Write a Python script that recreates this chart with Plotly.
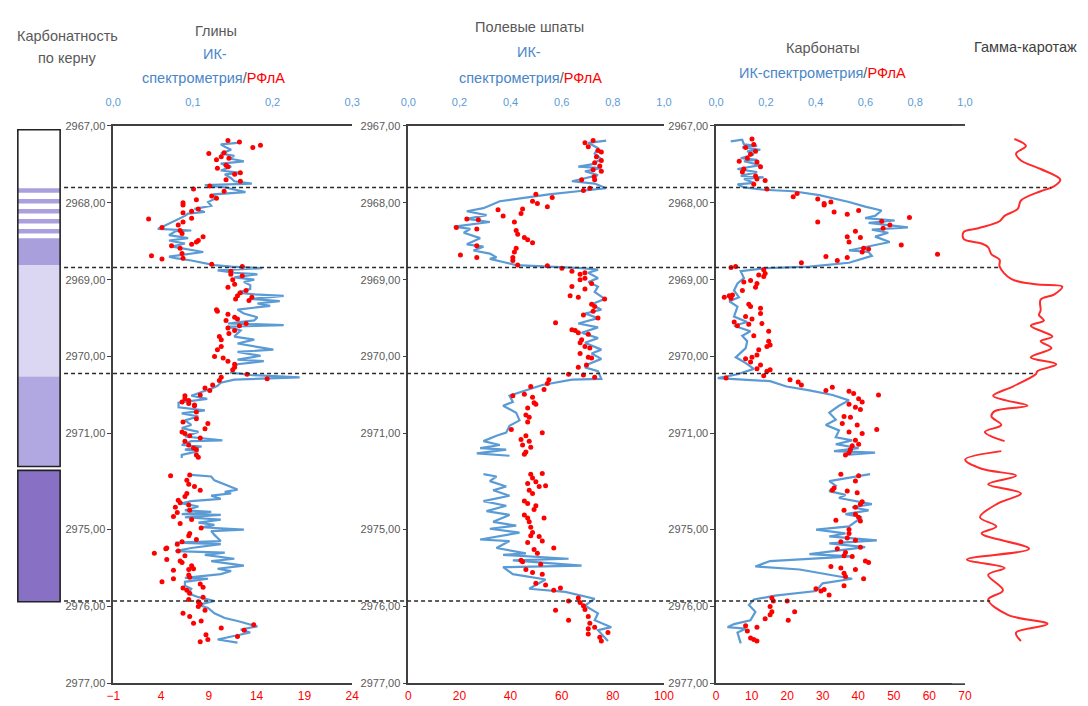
import numpy as np
import plotly.graph_objects as go

W, H = 1088, 706
BLUE = "#5b9bd5"
BLUE_TXT = "#4a86c8"
RED = "#ff0000"
GREY = "#595959"
AXC = "#404040"
FONT = "Liberation Sans, Arial, sans-serif"

# ---------------- depth axis (broken between 2971 and 2975) ----------------
DEPTH_TICKS = [2967, 2968, 2969, 2970, 2971, 2975, 2976, 2977]
BREAK_AT, BREAK_SHIFT = 2972.0, 2.75


def to_axis(seq):
    return [None if d is None else (d if d < BREAK_AT else d - BREAK_SHIFT) for d in seq]


# ---------------- Core carbonate column ----------------
CORE_TOP = [2967.05, 2967.80, 2968.46, 2968.81, 2970.26, 2974.23]
CORE_BOT = [2967.80, 2968.46, 2968.81, 2970.26, 2971.43, 2975.94]
CORE_KIND = ["white", "stripes", "medium", "light", "medium2", "dark"]
CORE_STRIPES = [2967.84, 2967.98, 2968.11, 2968.24, 2968.37]
CORE_BOXES = [(2967.05, 2971.43), (2974.23, 2975.94)]

# boundaries (dashed lines)
BOUNDARIES = [2967.80, 2968.84, 2970.22, 2975.93]

# ---------------- Clays ----------------
clay_ir_depth = [2967.22, 2967.24, 2967.27, 2967.31, 2967.36, 2967.39, 2967.42, 2967.46, 2967.49, 2967.53,
                 2967.58, 2967.61, 2967.63, 2967.68, 2967.72, 2967.75, 2967.77, 2967.80, 2967.86, 2967.89,
                 2967.94, 2967.99, 2968.04, 2968.08, 2968.12, 2968.14, 2968.17, 2968.23, 2968.26, 2968.34,
                 2968.36, 2968.37, 2968.42, 2968.44, 2968.46, 2968.49, 2968.53, 2968.57, 2968.59, 2968.64,
                 2968.70, 2968.72, 2968.75, 2968.78, 2968.81, 2968.83, 2968.85, 2968.88, 2968.91, 2968.93,
                 2968.97, 2969.00, 2969.03, 2969.07, 2969.12, 2969.17, 2969.19, 2969.21, 2969.25, 2969.28,
                 2969.31, 2969.34, 2969.39, 2969.44, 2969.49, 2969.53, 2969.57, 2969.59, 2969.61, 2969.66,
                 2969.70, 2969.74, 2969.78, 2969.83, 2969.91, 2969.94, 2969.99, 2970.04, 2970.06, 2970.10,
                 2970.14, 2970.21, 2970.24, 2970.27, 2970.30, 2970.34, 2970.38, 2970.42, 2970.46, 2970.51,
                 2970.55, 2970.60, 2970.66, 2970.70, 2970.74, 2970.78, 2970.83, 2970.89, 2970.93, 2970.98,
                 2971.04, 2971.09, 2971.10, 2971.15, 2971.17, 2971.21, 2971.23, 2971.28, 2971.32,
                 None,
                 2974.29, 2974.31, 2974.36, 2974.45, 2974.48, 2974.51, 2974.53, 2974.56, 2974.60, 2974.63,
                 2974.66, 2974.70, 2974.75, 2974.77, 2974.80, 2974.81, 2974.84, 2974.87, 2974.91, 2974.94,
                 2974.97, 2975.00, 2975.02, 2975.07, 2975.15, 2975.17, 2975.19, 2975.24, 2975.28, 2975.30,
                 2975.33, 2975.38, 2975.41, 2975.47, 2975.51, 2975.54, 2975.58, 2975.63, 2975.64, 2975.68,
                 2975.73, 2975.77, 2975.83, 2975.88, 2975.93, 2975.98, 2976.02, 2976.09, 2976.15, 2976.19,
                 2976.23, 2976.26, 2976.30, 2976.34, 2976.43, 2976.47]
clay_ir = [0.156, 0.135, 0.140, 0.148, 0.135, 0.152, 0.144, 0.164, 0.135, 0.148,
           0.135, 0.160, 0.140, 0.148, 0.152, 0.174, 0.115, 0.140, 0.166, 0.127,
           0.129, 0.119, 0.123, 0.102, 0.115, 0.094, 0.090, 0.078, 0.074, 0.056,
           0.098, 0.078, 0.070, 0.082, 0.094, 0.070, 0.090, 0.074, 0.086, 0.113,
           0.070, 0.078, 0.098, 0.115, 0.127, 0.148, 0.187, 0.131, 0.152, 0.181,
           0.152, 0.177, 0.164, 0.172, 0.172, 0.156, 0.177, 0.214, 0.172, 0.209,
           0.181, 0.197, 0.156, 0.164, 0.181, 0.177, 0.144, 0.214, 0.144, 0.160,
           0.156, 0.152, 0.177, 0.156, 0.201, 0.156, 0.185, 0.156, 0.189, 0.156,
           0.152, 0.148, 0.172, 0.234, 0.152, 0.135, 0.131, 0.123, 0.111, 0.098,
           0.118, 0.082, 0.082, 0.115, 0.086, 0.107, 0.090, 0.098, 0.086, 0.107,
           0.090, 0.137, 0.098, 0.086, 0.111, 0.090, 0.107, 0.086, 0.086,
           None,
           0.098, 0.123, 0.127, 0.148, 0.156, 0.140, 0.148, 0.123, 0.135, 0.098,
           0.086, 0.107, 0.090, 0.123, 0.086, 0.135, 0.090, 0.135, 0.107, 0.127,
           0.111, 0.164, 0.123, 0.127, 0.135, 0.078, 0.135, 0.098, 0.078, 0.140,
           0.115, 0.152, 0.123, 0.164, 0.131, 0.148, 0.135, 0.090, 0.119, 0.090,
           0.090, 0.098, 0.094, 0.107, 0.127, 0.107, 0.119, 0.127, 0.140, 0.156,
           0.172, 0.181, 0.160, 0.172, 0.131, 0.156]

clay_xrf_depth = [2967.19, 2967.21, 2967.28, 2967.25, 2967.36, 2967.35, 2967.40, 2967.44, 2967.42, 2967.51,
                  2967.53, 2967.55, 2967.63, 2967.61, 2967.70, 2967.72, 2967.82, 2967.78, 2967.85, 2967.94,
                  2967.96, 2968.00, 2968.03, 2967.91, 2968.08, 2968.11, 2968.13, 2968.21, 2968.20, 2968.25,
                  2968.29, 2968.32, 2968.36, 2968.40, 2968.44, 2968.49, 2968.51, 2968.56, 2968.54, 2968.59,
                  2968.66, 2968.69, 2968.73, 2968.72, 2968.80, 2968.83, 2968.89, 2968.93, 2968.95, 2969.00,
                  2969.06, 2969.10, 2969.14, 2969.17, 2969.21, 2969.23, 2969.27, 2969.25, 2969.39, 2969.41,
                  2969.45, 2969.53, 2969.49, 2969.51, 2969.57, 2969.63, 2969.60, 2969.66, 2969.70, 2969.74,
                  2969.78, 2969.87, 2969.91, 2970.00, 2970.02, 2970.06, 2970.10, 2970.14, 2970.17, 2970.23,
                  2970.29, 2970.27, 2970.31, 2970.37, 2970.44, 2970.41, 2970.50, 2970.51, 2970.55, 2970.59,
                  2970.61, 2970.63, 2970.57, 2970.64, 2970.72, 2970.81, 2970.85, 2970.87, 2970.94, 2970.98,
                  2971.00, 2971.03, 2971.06, 2971.10, 2971.15, 2971.19, 2971.21, 2971.28, 2971.31,
                  2974.30, 2974.29, 2974.36, 2974.41, 2974.44, 2974.49, 2974.53, 2974.57, 2974.62, 2974.65,
                  2974.68, 2974.71, 2974.78, 2974.83, 2974.75, 2974.87, 2974.92, 2974.98, 2975.05, 2975.08,
                  2975.13, 2975.16, 2975.19, 2975.24, 2975.25, 2975.31, 2975.28, 2975.34, 2975.39, 2975.41,
                  2975.43, 2975.47, 2975.51, 2975.52, 2975.53, 2975.59, 2975.62, 2975.64, 2975.68, 2975.71,
                  2975.75, 2975.76, 2975.79, 2975.83, 2975.91, 2975.94, 2975.88, 2976.00, 2975.97, 2976.05,
                  2976.09, 2976.13, 2976.19, 2976.22, 2976.28, 2976.31, 2976.24, 2976.39, 2976.37, 2976.43,
                  2976.46]
clay_xrf = [11.0, 12.2, 13.6, 14.4, 9.0, 10.6, 10.3, 9.8, 11.1, 10.8,
            11.0, 9.9, 11.7, 12.3, 10.8, 12.3, 7.4, 9.1, 10.6, 9.8,
            7.7, 6.3, 6.3, 9.3, 7.9, 7.2, 6.3, 2.7, 7.2, 6.3,
            5.8, 4.1, 6.0, 6.2, 8.4, 7.9, 7.7, 5.1, 7.2, 6.0,
            6.2, 3.0, 4.1, 6.3, 9.3, 12.5, 11.3, 11.3, 12.5, 11.5,
            11.7, 11.0, 12.9, 12.3, 12.0, 13.5, 13.2, 11.8, 9.8, 9.9,
            11.0, 10.8, 11.7, 12.0, 12.9, 11.0, 12.2, 11.7, 11.1, 10.1,
            10.3, 10.3, 9.9, 9.6, 10.5, 11.0, 11.7, 11.7, 11.5, 13.0,
            15.1, 10.3, 10.1, 9.4, 9.1, 8.6, 8.1, 6.5, 6.5, 6.2,
            6.9, 7.5, 6.9, 7.5, 7.7, 7.7, 6.3, 8.9, 8.6, 6.2,
            6.5, 7.0, 8.1, 6.5, 6.9, 7.4, 7.7, 7.7, 7.9,
            5.0, 7.0, 6.7, 6.9, 7.5, 8.1, 6.7, 6.5, 5.8, 6.0,
            6.9, 5.5, 5.7, 5.3, 7.0, 7.2, 6.0, 8.2, 7.0, 6.9,
            7.7, 6.2, 5.7, 4.6, 4.5, 3.3, 5.8, 6.5, 4.6, 6.0,
            6.2, 7.2, 7.4, 6.9, 5.3, 6.9, 7.0, 5.3, 4.1, 8.1,
            8.4, 6.3, 6.7, 7.0, 6.9, 7.9, 8.4, 7.9, 8.1, 8.6,
            6.3, 7.0, 8.2, 7.4, 10.3, 12.7, 13.7, 12.0, 8.7, 8.9,
            8.1]

# ---------------- Feldspars ----------------
fsp_ir_depth = [2967.19, 2967.22, 2967.29, 2967.36, 2967.43, 2967.50, 2967.53, 2967.55, 2967.59, 2967.64,
                2967.68, 2967.72, 2967.75, 2967.81, 2967.84, 2967.89, 2967.98, 2968.07, 2968.11, 2968.16,
                2968.21, 2968.25, 2968.31, 2968.34, 2968.39, 2968.46, 2968.54, 2968.57, 2968.62, 2968.66,
                2968.71, 2968.73, 2968.77, 2968.81, 2968.85, 2968.87, 2968.91, 2968.98, 2969.03, 2969.09,
                2969.16, 2969.25, 2969.32, 2969.39, 2969.44, 2969.50, 2969.57, 2969.62, 2969.69, 2969.76,
                2969.82, 2969.91, 2969.96, 2970.03, 2970.10, 2970.14, 2970.19, 2970.29, 2970.30, 2970.37,
                2970.51, 2970.59, 2970.64, 2970.73, 2970.83, 2970.90, 2970.99, 2971.03, 2971.10, 2971.15,
                2971.19, 2971.21, 2971.26, 2971.29,
                None,
                2974.28, 2974.31, 2974.37, 2974.44, 2974.49, 2974.56, 2974.63, 2974.69, 2974.76, 2974.81,
                2974.90, 2974.95, 2974.99, 2975.04, 2975.13, 2975.15, 2975.24, 2975.31, 2975.33, 2975.38,
                2975.40, 2975.47, 2975.49, 2975.58, 2975.65, 2975.77, 2975.81, 2975.90, 2975.99, 2976.09,
                2976.18, 2976.27, 2976.31, 2976.45]
fsp_ir = [0.774, 0.704, 0.742, 0.729, 0.755, 0.717, 0.665, 0.755, 0.691, 0.742,
          0.691, 0.640, 0.729, 0.774, 0.691, 0.550, 0.358, 0.294, 0.229, 0.306,
          0.229, 0.319, 0.178, 0.242, 0.217, 0.281, 0.229, 0.294, 0.255, 0.319,
          0.345, 0.319, 0.371, 0.422, 0.678, 0.742, 0.704, 0.742, 0.704, 0.742,
          0.729, 0.768, 0.717, 0.755, 0.691, 0.742, 0.665, 0.742, 0.678, 0.742,
          0.691, 0.755, 0.717, 0.755, 0.704, 0.691, 0.742, 0.755, 0.640, 0.524,
          0.396, 0.409, 0.371, 0.422, 0.435, 0.396, 0.383, 0.345, 0.294, 0.358,
          0.281, 0.383, 0.268, 0.396,
          None,
          0.294, 0.345, 0.319, 0.383, 0.332, 0.396, 0.294, 0.383, 0.306, 0.396,
          0.332, 0.422, 0.319, 0.435, 0.281, 0.396, 0.345, 0.460, 0.371, 0.627,
          0.409, 0.678, 0.371, 0.409, 0.537, 0.473, 0.614, 0.729, 0.691, 0.742,
          0.729, 0.794, 0.742, 0.781]

fsp_xrf_depth = [2967.22, 2967.19, 2967.27, 2967.32, 2967.34, 2967.40, 2967.45, 2967.48, 2967.52, 2967.57,
                 2967.59, 2967.66, 2967.70, 2967.70, 2967.81, 2967.84, 2967.89, 2967.93, 2967.98, 2968.01,
                 2968.05, 2968.08, 2968.14, 2968.09, 2968.17, 2968.25, 2968.36, 2968.41, 2968.45, 2968.48,
                 2968.52, 2968.59, 2968.64, 2968.71, 2968.75, 2968.21, 2968.22, 2968.34, 2968.32, 2968.56,
                 2968.68, 2968.71, 2968.81, 2968.82, 2968.85, 2968.89, 2968.93, 2968.91, 2968.98, 2969.00,
                 2969.05, 2969.09, 2969.21, 2969.12, 2969.23, 2969.25, 2969.32, 2969.35, 2969.41, 2969.46,
                 2969.50, 2969.56, 2969.65, 2969.66, 2969.69, 2969.71, 2969.78, 2969.82, 2969.87, 2969.89,
                 2969.96, 2970.01, 2970.02, 2970.11, 2970.14, 2970.23, 2970.24, 2970.27, 2970.30, 2970.35,
                 2970.43, 2970.39, 2970.49, 2970.51, 2970.53, 2970.60, 2970.62, 2970.67, 2970.76, 2970.79,
                 2970.85, 2970.95, 2970.99, 2971.03, 2971.08, 2971.10, 2971.15, 2971.18, 2971.24, 2971.27,
                 2974.28, 2974.27, 2974.33, 2974.38, 2974.40, 2974.44, 2974.43, 2974.49, 2974.53, 2974.63,
                 2974.66, 2974.69, 2974.74, 2974.81, 2974.85, 2974.85, 2974.90, 2974.97, 2975.04, 2975.08,
                 2975.09, 2975.15, 2975.17, 2975.26, 2975.31, 2975.24, 2975.40, 2975.42, 2975.52, 2975.45,
                 2975.56, 2975.58, 2975.70, 2975.72, 2975.79, 2975.76, 2975.93, 2975.89, 2975.95, 2975.99,
                 2976.05, 2976.18, 2976.04, 2976.13, 2976.22, 2976.29, 2976.27, 2976.36, 2976.34, 2976.40,
                 2976.45]
fsp_xrf = [69.1, 72.3, 70.4, 74.2, 75.5, 73.6, 75.5, 72.9, 74.9, 72.3,
           75.5, 72.7, 67.8, 72.9, 71.0, 68.5, 49.9, 56.3, 48.6, 50.5,
           54.4, 44.7, 44.1, 35.1, 37.1, 41.5, 42.2, 42.8, 45.4, 46.7,
           48.6, 42.2, 41.5, 40.9, 40.9, 22.9, 27.4, 26.8, 18.8, 26.8,
           20.4, 26.8, 42.8, 54.4, 60.1, 64.0, 67.2, 69.1, 69.1, 67.2,
           71.7, 64.0, 63.3, 69.1, 66.5, 76.8, 71.7, 72.9, 72.3, 68.5,
           74.2, 57.6, 64.0, 65.3, 66.5, 70.4, 67.8, 67.2, 69.1, 71.0,
           67.2, 70.4, 71.7, 69.7, 66.5, 62.7, 68.5, 72.9, 55.0, 54.4,
           53.1, 47.9, 45.4, 40.9, 48.6, 49.2, 49.9, 46.7, 46.0, 47.3,
           46.7, 40.3, 52.4, 46.0, 44.1, 47.3, 44.7, 47.9, 46.0, 45.4,
           47.9, 52.4, 48.6, 49.9, 46.7, 51.2, 53.7, 47.3, 48.6, 45.4,
           46.7, 49.9, 49.2, 45.4, 46.7, 53.1, 47.3, 47.9, 48.6, 47.9,
           51.2, 52.4, 46.7, 49.2, 50.5, 56.9, 44.1, 44.7, 46.0, 51.8,
           48.6, 52.4, 49.9, 53.7, 56.9, 59.5, 62.7, 66.5, 67.2, 68.5,
           57.6, 62.7, 69.1, 70.4, 71.0, 70.4, 72.9, 70.4, 78.1, 74.9,
           75.5]

# ---------------- Carbonates ----------------
carb_ir_depth = [2967.20, 2967.18, 2967.24, 2967.26, 2967.28, 2967.31, 2967.33, 2967.37, 2967.42, 2967.44,
                 2967.46, 2967.51, 2967.56, 2967.60, 2967.65, 2967.67, 2967.69, 2967.74, 2967.76, 2967.80,
                 2967.83, 2967.85, 2967.90, 2967.99, 2968.05, 2968.10, 2968.17, 2968.20, 2968.23, 2968.26,
                 2968.32, 2968.35, 2968.39, 2968.44, 2968.51, 2968.62, 2968.64, 2968.69, 2968.78, 2968.83,
                 2968.85, 2968.89, 2968.98, 2969.05, 2969.14, 2969.23, 2969.28, 2969.35, 2969.48, 2969.55,
                 2969.60, 2969.67, 2969.73, 2969.80, 2969.89, 2970.01, 2970.07, 2970.16, 2970.23, 2970.28,
                 2970.32, 2970.39, 2970.44, 2970.50, 2970.57, 2970.64, 2970.73, 2970.82, 2970.89, 2970.96,
                 2971.05, 2971.09, 2971.14, 2971.19, 2971.23, 2971.25, 2971.28,
                 None,
                 2974.28, 2974.37, 2974.43, 2974.50, 2974.55, 2974.59, 2974.67, 2974.71, 2974.75, 2974.80,
                 2974.84, 2974.96, 2975.00, 2975.05, 2975.09, 2975.14, 2975.18, 2975.23, 2975.32, 2975.35,
                 2975.41, 2975.48, 2975.52, 2975.64, 2975.70, 2975.80, 2975.86, 2975.91, 2975.98, 2976.07,
                 2976.18, 2976.23, 2976.27, 2976.29, 2976.34, 2976.48]
carb_ir = [0.059, 0.105, 0.112, 0.165, 0.105, 0.178, 0.125, 0.152, 0.099, 0.165,
           0.112, 0.178, 0.086, 0.165, 0.099, 0.191, 0.112, 0.152, 0.086, 0.112,
           0.191, 0.310, 0.415, 0.534, 0.599, 0.665, 0.639, 0.599, 0.718, 0.613,
           0.771, 0.626, 0.692, 0.639, 0.698, 0.534, 0.613, 0.626, 0.534, 0.375,
           0.204, 0.099, 0.112, 0.086, 0.072, 0.092, 0.053, 0.086, 0.072, 0.125,
           0.072, 0.138, 0.105, 0.125, 0.119, 0.079, 0.112, 0.152, 0.086, 0.007,
           0.217, 0.283, 0.375, 0.468, 0.534, 0.494, 0.455, 0.481, 0.441, 0.494,
           0.481, 0.547, 0.481, 0.573, 0.474, 0.639, 0.520,
           None,
           0.619, 0.455, 0.481, 0.455, 0.520, 0.494, 0.626, 0.547, 0.613, 0.520,
           0.586, 0.534, 0.402, 0.520, 0.455, 0.646, 0.455, 0.599, 0.375, 0.547,
           0.217, 0.158, 0.336, 0.547, 0.428, 0.402, 0.237, 0.152, 0.132, 0.158,
           0.138, 0.072, 0.046, 0.119, 0.086, 0.099]

carb_xrf_depth = [2967.17, 2967.24, 2967.28, 2967.33, 2967.37, 2967.42, 2967.46, 2967.47, 2967.56, 2967.53,
                  2967.60, 2967.65, 2967.71, 2967.69, 2967.76, 2967.82, 2967.92, 2967.88, 2967.95, 2968.03,
                  2967.99, 2968.12, 2968.01, 2968.15, 2968.10, 2968.25, 2968.24, 2968.33, 2968.29, 2968.19,
                  2968.37, 2968.44, 2968.51, 2968.45, 2968.55, 2968.59, 2968.64, 2968.60, 2968.67, 2968.70,
                  2968.75, 2968.71, 2968.78, 2968.84, 2968.83, 2970.28, 2968.87, 2968.92, 2968.94, 2969.01,
                  2968.96, 2969.05, 2969.03, 2969.10, 2969.14, 2969.21, 2969.23, 2969.24, 2969.20, 2969.32,
                  2969.35, 2969.37, 2969.44, 2969.48, 2969.51, 2969.55, 2969.60, 2969.57, 2969.58, 2969.67,
                  2969.73, 2969.80, 2969.85, 2969.87, 2969.91, 2969.98, 2970.01, 2970.03, 2970.07, 2970.11,
                  2970.16, 2970.17, 2970.19, 2970.25, 2970.30, 2970.33, 2970.37, 2970.44, 2970.40, 2970.45,
                  2970.48, 2970.55, 2970.59, 2970.62, 2970.66, 2970.50, 2970.69, 2970.78, 2970.79, 2970.89,
                  2970.87, 2970.98, 2971.00, 2970.95, 2971.09, 2971.16, 2971.14, 2971.21, 2971.28, 2971.25,
                  2974.28, 2974.30, 2974.37, 2974.46, 2974.49, 2974.50, 2974.52, 2974.64, 2974.67, 2974.71,
                  2974.75, 2974.80, 2974.84, 2974.89, 2974.88, 2975.00, 2975.05, 2975.11, 2975.16, 2975.14,
                  2975.23, 2975.30, 2975.25, 2975.34, 2975.35, 2975.41, 2975.43, 2975.48, 2975.50, 2975.52,
                  2975.57, 2975.61, 2975.73, 2975.64, 2975.77, 2975.80, 2975.78, 2975.85, 2975.89, 2975.93,
                  2975.93, 2976.00, 2976.07, 2976.11, 2976.16, 2976.07, 2976.18, 2976.27, 2976.25, 2976.32,
                  2976.41, 2976.43, 2976.45]
carb_xrf = [10.1, 10.6, 8.3, 11.1, 9.7, 8.8, 6.5, 11.5, 7.8, 12.5,
            7.4, 11.1, 13.8, 11.5, 10.6, 14.3, 21.7, 22.8, 28.6, 30.4,
            32.3, 33.2, 30.4, 36.9, 40.1, 28.6, 46.6, 47.0, 48.9, 54.4,
            39.2, 36.9, 37.4, 40.6, 52.1, 41.5, 41.1, 42.9, 62.3, 30.9,
            34.1, 36.9, 24.0, 4.2, 5.5, 2.8, 13.4, 13.8, 12.0, 9.7,
            13.4, 11.5, 7.8, 11.1, 7.4, 3.7, 2.3, 4.2, 4.6, 9.2,
            9.7, 12.5, 12.5, 8.3, 10.1, 5.1, 6.0, 12.9, 9.2, 14.8,
            10.6, 14.8, 15.2, 14.3, 12.0, 11.5, 10.1, 8.3, 9.7, 12.5,
            11.5, 15.2, 14.3, 13.4, 20.8, 23.1, 24.0, 30.9, 32.7, 37.4,
            38.7, 40.1, 41.1, 37.4, 39.2, 45.7, 40.6, 36.0, 37.8, 39.7,
            35.5, 37.4, 41.1, 45.2, 39.2, 38.3, 40.1, 37.8, 36.4, 37.4,
            35.1, 40.1, 39.2, 33.2, 32.7, 36.9, 39.7, 41.1, 40.6, 39.2,
            36.0, 39.2, 40.1, 40.6, 33.7, 37.4, 37.4, 36.9, 35.1, 39.2,
            40.6, 36.4, 34.1, 36.0, 38.3, 42.0, 42.9, 32.3, 35.1, 39.2,
            36.0, 36.4, 36.0, 41.5, 28.1, 29.5, 30.4, 31.8, 15.7, 16.1,
            20.0, 15.2, 15.7, 15.2, 13.8, 22.1, 20.3, 11.5, 8.3, 8.8,
            9.7, 10.6, 11.5]

# ---------------- Gamma log ----------------
gamma_depth = [2967.17, 2967.26, 2967.36, 2967.45, 2967.56, 2967.70, 2967.79, 2967.85, 2967.97, 2968.08,
               2968.17, 2968.24, 2968.33, 2968.38, 2968.47, 2968.53, 2968.58, 2968.67, 2968.74, 2968.83,
               2968.99, 2969.06, 2969.09, 2969.19, 2969.26, 2969.40, 2969.46, 2969.53, 2969.60, 2969.74,
               2969.80, 2969.89, 2970.01, 2970.10, 2970.19, 2970.23, 2970.39, 2970.51, 2970.57, 2970.64,
               2970.71, 2970.78, 2970.89, 2970.98, 2971.10,
               None,
               2973.98, 2974.09, 2974.21, 2974.30, 2974.41, 2974.53, 2974.66, 2974.84, 2974.96, 2975.05,
               2975.25, 2975.39, 2975.50, 2975.59, 2975.79, 2975.91, 2976.11, 2976.23, 2976.34, 2976.45]
gamma = [63.3, 75.0, 65.0, 70.0, 90.0, 110.0, 103.0, 90.0, 70.0, 66.7,
         53.3, 48.3, 26.7, 11.7, 11.7, 30.0, 36.7, 40.0, 48.3, 48.3,
         60.0, 85.0, 112.0, 104.0, 90.0, 90.0, 88.3, 93.3, 80.0, 102.0,
         90.0, 101.0, 80.0, 106.0, 86.7, 85.0, 61.7, 41.7, 55.0, 76.7,
         43.3, 40.0, 50.0, 33.3, 53.3,
         None,
         50.0, 13.3, 30.0, 65.0, 36.7, 70.0, 46.7, 28.3, 45.0, 30.0,
         78.3, 15.0, 53.3, 36.7, 51.7, 36.7, 56.7, 97.0, 65.0, 70.0]

# ---------------- axis tick values ----------------
CLAY_IR_TICKS = [0.0, 0.1, 0.2, 0.3]
CLAY_XRF_TICKS = [-1, 4, 9, 14, 19, 24]
FSP_IR_TICKS = [0.0, 0.2, 0.4, 0.6, 0.8, 1.0]
FSP_XRF_TICKS = [0, 20, 40, 60, 80, 100]
CARB_IR_TICKS = [0.0, 0.2, 0.4, 0.6, 0.8, 1.0]
CARB_XRF_TICKS = [0, 10, 20, 30, 40, 50, 60, 70]

# ---------------- layout geometry (pixels) ----------------
Y_TOP, Y_BOT = 122, 689
TRACKS = [(107, 350), (407, 667), (720, 973)]
GAMMA_DOM = (960, 1080)
CORE_X = (10, 53)
DASH_X0 = 57


def px_x(p):
    return p / W


def px_y(p):
    return 1 - p / H


fig = go.Figure()

track_data = [
    (clay_ir_depth, clay_ir, clay_xrf_depth, clay_xrf),
    (fsp_ir_depth, fsp_ir, fsp_xrf_depth, fsp_xrf),
    (carb_ir_depth, carb_ir, carb_xrf_depth, carb_xrf),
]
for i, (d_ir, v_ir, d_x, v_x) in enumerate(track_data):
    base = 2 * i + 1
    xa = "x" if base == 1 else f"x{base}"
    xb = f"x{base + 1}"
    ya = "y" if i == 0 else f"y{i + 1}"
    fig.add_trace(go.Scatter(x=v_ir, y=to_axis(d_ir), xaxis=xa, yaxis=ya, mode="lines",
                             line=dict(color=BLUE, width=2.2), connectgaps=False,
                             showlegend=False, hoverinfo="skip"))
    fig.add_trace(go.Scatter(x=v_x, y=to_axis(d_x), xaxis=xb, yaxis=ya, mode="markers",
                             marker=dict(color=RED, size=5, line=dict(width=0)),
                             showlegend=False, hoverinfo="skip"))

fig.add_trace(go.Scatter(x=gamma, y=to_axis(gamma_depth), xaxis="x7", yaxis="y4", mode="lines",
                         line=dict(color="#ff2a2a", width=2, shape="spline", smoothing=1.0),
                         connectgaps=False, showlegend=False, hoverinfo="skip"))

y_domain = [px_y(Y_BOT), px_y(Y_TOP)]
y_range = [to_axis([DEPTH_TICKS[-1]])[0], DEPTH_TICKS[0]]
tick_text = [f"{t:.2f}".replace(".", ",") for t in DEPTH_TICKS]

layout = dict(
    width=W, height=H, margin=dict(l=0, r=0, t=0, b=0),
    paper_bgcolor="white", plot_bgcolor="white",
    separators=", ", font=dict(family=FONT, color=GREY),
    showlegend=False,
)

ir_ticks = [CLAY_IR_TICKS, FSP_IR_TICKS, CARB_IR_TICKS]
xrf_ticks = [CLAY_XRF_TICKS, FSP_XRF_TICKS, CARB_XRF_TICKS]
for i, (x0, x1) in enumerate(TRACKS):
    base = 2 * i + 1
    ka = "xaxis" if base == 1 else f"xaxis{base}"
    kb = f"xaxis{base + 1}"
    xa = "x" if base == 1 else f"x{base}"
    ya = "y" if i == 0 else f"y{i + 1}"
    ky = "yaxis" if i == 0 else f"yaxis{i + 1}"
    it, xt = ir_ticks[i], xrf_ticks[i]
    layout[ka] = dict(domain=[px_x(x0), px_x(x1)], range=[it[0], it[-1]], tickmode="array",
                      tickvals=it, tickformat=".1f", side="top", anchor=ya,
                      showline=True, linecolor=AXC, linewidth=1.5, ticks="",
                      showgrid=False, zeroline=False, ticklabelstandoff=14,
                      tickfont=dict(color=BLUE, size=11, family=FONT))
    layout[kb] = dict(overlaying=xa, anchor=ya, side="bottom", range=[xt[0], xt[-1]],
                      tickmode="array", tickvals=xt, showline=True, linecolor=AXC, linewidth=1.5,
                      ticks="", showgrid=False, zeroline=False, ticklabelstandoff=1,
                      tickfont=dict(color=RED, size=12, family=FONT))
    layout[ky] = dict(domain=y_domain, range=y_range, tickmode="array",
                      tickvals=to_axis(DEPTH_TICKS), ticktext=tick_text, anchor=xa,
                      ticks="outside", ticklen=4, tickcolor=AXC, tickwidth=1,
                      showline=True, linecolor=AXC, linewidth=1.5,
                      showgrid=False, zeroline=False,
                      tickfont=dict(color=GREY, size=11, family=FONT))

layout["xaxis7"] = dict(domain=[px_x(GAMMA_DOM[0]), px_x(GAMMA_DOM[1])], range=[0, 120],
                        anchor="y4", visible=False, showgrid=False, zeroline=False)
layout["yaxis4"] = dict(domain=y_domain, range=y_range, anchor="x7", visible=False,
                        showgrid=False, zeroline=False)

# ---------------- shapes ----------------
shapes = []
core_colors = {"white": "#ffffff", "stripes": "#ffffff", "medium": "#aa9fdd",
               "light": "#dbd6f2", "medium2": "#b1a7e1", "dark": "#8871c5"}
for t, b, k in zip(CORE_TOP, CORE_BOT, CORE_KIND):
    shapes.append(dict(type="rect", xref="paper", yref="y", x0=px_x(CORE_X[0]), x1=px_x(CORE_X[1]),
                       y0=to_axis([t])[0], y1=to_axis([b])[0], fillcolor=core_colors[k],
                       line=dict(width=0), layer="below"))
for c in CORE_STRIPES:
    shapes.append(dict(type="rect", xref="paper", yref="y", x0=px_x(CORE_X[0]), x1=px_x(CORE_X[1]),
                       y0=c - 0.028, y1=c + 0.028, fillcolor="#ab9fdd",
                       line=dict(width=0), layer="below"))
for t, b in CORE_BOXES:
    shapes.append(dict(type="rect", xref="paper", yref="y", x0=px_x(CORE_X[0]), x1=px_x(CORE_X[1]),
                       y0=to_axis([t])[0], y1=to_axis([b])[0], fillcolor="rgba(0,0,0,0)",
                       line=dict(color="#222222", width=1.6), layer="above"))

# dashed boundary lines, ending on the gamma curve
g_valid = [(d, g) for d, g in zip(to_axis(gamma_depth), gamma) if d is not None]
g_d = np.array([p[0] for p in g_valid])
g_v = np.array([p[1] for p in g_valid])
order = np.argsort(g_d)
for bd in BOUNDARIES:
    ya = to_axis([bd])[0]
    gend = float(np.interp(ya, g_d[order], g_v[order]))
    dash = dict(color="#2a2a2a", width=1.5, dash="4px,3px")
    shapes.append(dict(type="line", xref="paper", yref="y", x0=px_x(DASH_X0), x1=px_x(GAMMA_DOM[0]),
                       y0=ya, y1=ya, line=dash, layer="above"))
    shapes.append(dict(type="line", xref="x7", yref="y4", x0=0, x1=gend,
                       y0=ya, y1=ya, line=dash, layer="above"))
layout["shapes"] = shapes

# ---------------- titles ----------------
SPEC = (f"<span style='color:{BLUE_TXT}'>спектрометрия</span>"
        f"<span style='color:{GREY}'>/</span><span style='color:{RED}'>РФлА</span>")
titles = [
    (61, 31, "Карбонатность", GREY),
    (61, 53, "по керну", GREY),
    (211, 25, "Глины", GREY),
    (210, 49, "ИК-", BLUE_TXT),
    (209, 73, SPEC, GREY),
    (530, 21, "Полевые шпаты", GREY),
    (530, 47, "ИК-", BLUE_TXT),
    (531, 73, SPEC, GREY),
    (829, 43, "Карбонаты", GREY),
    (828, 68, f"<span style='color:{BLUE_TXT}'>ИК-спектрометрия</span>"
              f"<span style='color:{GREY}'>/</span><span style='color:{RED}'>РФлА</span>", GREY),
    (1035, 42, "Гамма-каротаж", "#404040"),
]
annotations = []
for x, y, txt, col in titles:
    annotations.append(dict(x=px_x(x), y=px_y(y), xref="paper", yref="paper", text=txt,
                            showarrow=False, xanchor="center", yanchor="middle",
                            font=dict(size=14.5, color=col, family=FONT)))
layout["annotations"] = annotations

fig.update_layout(**layout)
fig.write_html("out.html")
